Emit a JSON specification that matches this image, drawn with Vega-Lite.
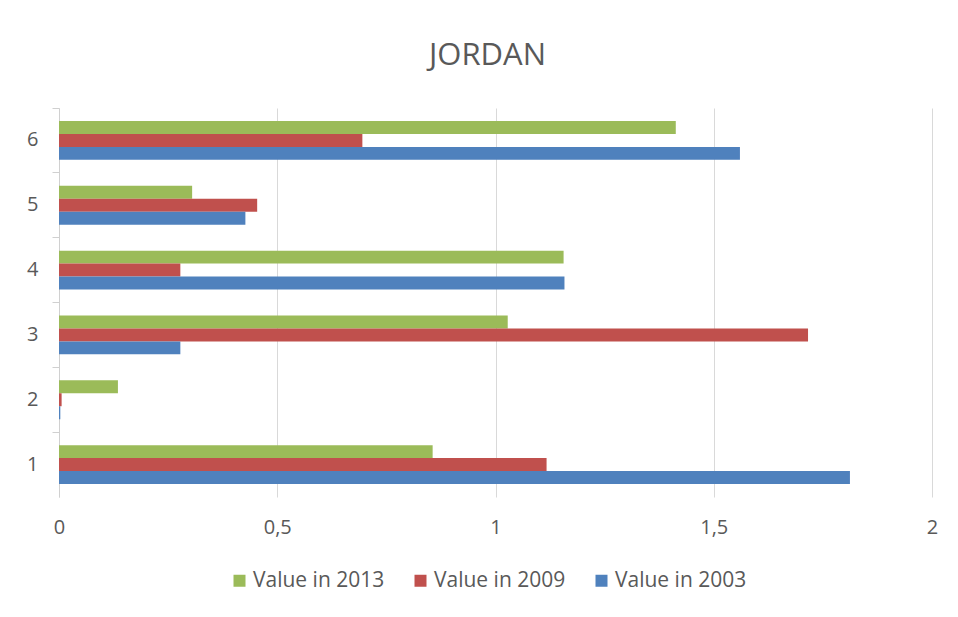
{
  "$schema": "https://vega.github.io/schema/vega-lite/v6.json",
  "autosize": "none",
  "width": 873,
  "height": 389,
  "padding": {"left": 59, "top": 108, "right": 26, "bottom": 120},
  "background": "white",
  "title": {
    "text": "JORDAN",
    "font": "Open Sans",
    "fontSize": 31,
    "fontWeight": "normal",
    "color": "#595959",
    "anchor": "middle",
    "baseline": "alphabetic",
    "offset": 12,
    "dx": -8
  },
  "data": {
    "values": [
      {"category": 1, "series": "Value in 2013", "value": 0.856},
      {"category": 1, "series": "Value in 2009", "value": 1.117},
      {"category": 1, "series": "Value in 2003", "value": 1.812},
      {"category": 2, "series": "Value in 2013", "value": 0.135},
      {"category": 2, "series": "Value in 2009", "value": 0.006},
      {"category": 2, "series": "Value in 2003", "value": 0.003},
      {"category": 3, "series": "Value in 2013", "value": 1.028},
      {"category": 3, "series": "Value in 2009", "value": 1.716},
      {"category": 3, "series": "Value in 2003", "value": 0.278},
      {"category": 4, "series": "Value in 2013", "value": 1.156},
      {"category": 4, "series": "Value in 2009", "value": 0.278},
      {"category": 4, "series": "Value in 2003", "value": 1.158},
      {"category": 5, "series": "Value in 2013", "value": 0.305},
      {"category": 5, "series": "Value in 2009", "value": 0.454},
      {"category": 5, "series": "Value in 2003", "value": 0.427},
      {"category": 6, "series": "Value in 2013", "value": 1.413},
      {"category": 6, "series": "Value in 2009", "value": 0.695},
      {"category": 6, "series": "Value in 2003", "value": 1.56}
    ]
  },
  "mark": {"type": "bar", "cornerRadius": 0},
  "encoding": {
    "y": {
      "field": "category",
      "type": "ordinal",
      "sort": "descending",
      "scale": {"paddingInner": 0, "paddingOuter": 0},
      "axis": {
        "title": null,
        "labelFont": "Open Sans",
        "labelFontSize": 20,
        "labelColor": "#595959",
        "labelPadding": 14,
        "tickSize": 7,
        "tickColor": "#D0D0D0",
        "domainColor": "#D0D0D0",
        "bandPosition": 0,
        "grid": false,
        "labelAngle": 0
      }
    },
    "yOffset": {
      "field": "series",
      "type": "nominal",
      "sort": ["Value in 2013", "Value in 2009", "Value in 2003"],
      "scale": {"paddingInner": 0, "paddingOuter": 1}
    },
    "x": {
      "field": "value",
      "type": "quantitative",
      "scale": {"domain": [0, 2], "nice": false},
      "axis": {
        "title": null,
        "values": [0, 0.5, 1, 1.5, 2],
        "format": ",.1~f",
        "formatType": "number",
        "labelExpr": "replace(datum.label, '.', ',')",
        "labelFont": "Open Sans",
        "labelFontSize": 20,
        "labelColor": "#595959",
        "labelPadding": 20,
        "labelFlush": false,
        "tickSize": 0,
        "ticks": false,
        "domain": false,
        "grid": true,
        "gridColor": "#D9D9D9",
        "gridWidth": 1
      }
    },
    "color": {
      "field": "series",
      "type": "nominal",
      "scale": {
        "domain": ["Value in 2013", "Value in 2009", "Value in 2003"],
        "range": ["#9BBB59", "#C0504D", "#4F81BD"]
      },
      "legend": {
        "title": null,
        "orient": "none",
        "legendX": 170,
        "legendY": 462,
        "direction": "horizontal",
        "symbolType": "square",
        "symbolSize": 144,
        "symbolStrokeWidth": 0,
        "labelFont": "Open Sans",
        "labelFontSize": 21,
        "labelColor": "#595959",
        "labelOffset": 3,
        "columnPadding": 25
      }
    }
  },
  "config": {
    "view": {"stroke": null}
  }
}
